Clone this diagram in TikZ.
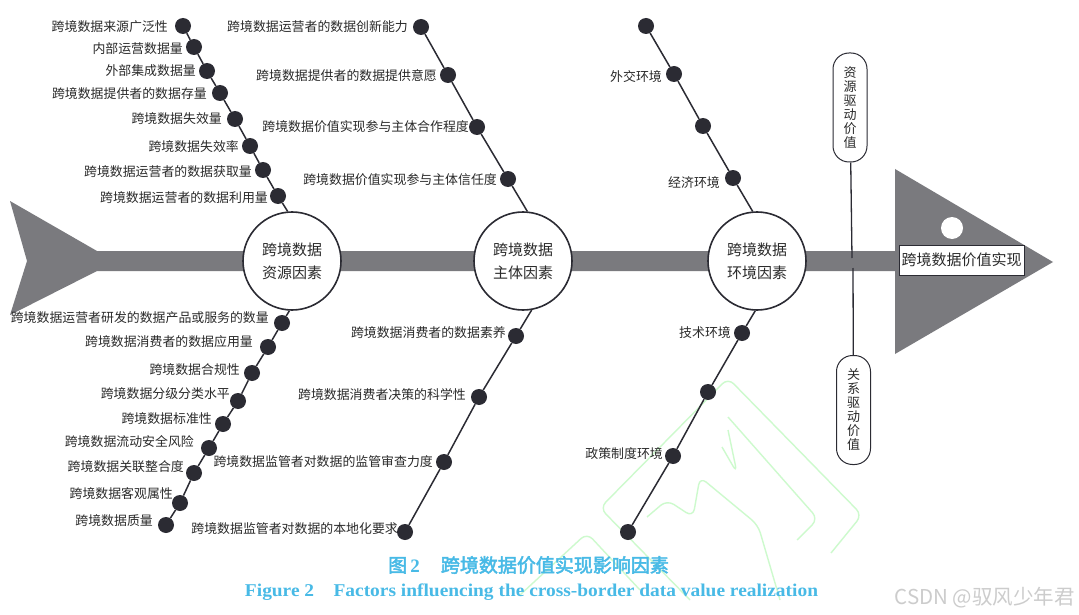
\documentclass[tikz,border=0pt]{standalone}
\usepackage{fontspec}
\usepackage{graphicx}
\newfontfamily\cjk{Noto Sans CJK SC}
\newfontfamily\cjkb[AutoFakeBold=2.5]{Noto Sans CJK SC}
\newfontfamily\capserif{Liberation Serif}
\definecolor{dotc}{HTML}{2B2B33}
\definecolor{spinec}{HTML}{7A7A7E}
\definecolor{txtc}{HTML}{2A2A2A}
\definecolor{capc}{RGB}{72,186,230}
\definecolor{wmc}{RGB}{205,250,205}
\tikzset{
  dotn/.style={circle,fill=dotc,inner sep=0pt,minimum size=16pt},
  bone/.style={draw=dotc,line width=1.5pt},
  lab/.style={anchor=east,inner sep=0pt,text=txtc,font=\cjk\fontsize{12.9}{14}\selectfont},
  bigc/.style={circle,draw=dotc,line width=1.6pt,fill=white,minimum size=98pt,inner sep=0pt,align=center,text=txtc,font=\cjk\fontsize{15}{23}\selectfont},
  pill/.style={draw=dotc,line width=1pt,fill=white,rounded corners=16pt,minimum width=34pt,minimum height=109pt,inner sep=0pt,align=center,text=txtc,font=\cjk\fontsize{13}{14}\selectfont},
  wm/.style={draw=wmc,line width=1.4pt,rounded corners=8pt}
}
\begin{document}
\begin{tikzpicture}[x=1pt,y=-1pt]
\fill[white] (0,0) rectangle (1079,615);
\useasboundingbox (0,0) rectangle (1079,615);

% watermark outline
\draw[wm] (690,600) -- (600,508) -- (728,378) -- (862,515) -- (831,553);
\draw[wm] (728,417) -- (818,519) -- (797,540);
\draw[wm] (647,517) -- (667,500) -- (693,517) -- (700,477) -- (758,525) -- (780,600);
\draw[wm] (722,447) -- (737,473) -- (728,430);
\draw[wm] (520,595) -- (587,533) -- (640,590);

% spine, tail and head
\fill[spinec] (10,201) -- (97,251) -- (895,251) -- (895,169) -- (1053,262) -- (895,354) -- (895,271) -- (97,271) -- (10,315) -- (27,261) -- cycle;
\fill[white] (952,228) circle (11);
\node[draw=dotc,line width=0.9pt,fill=white,minimum width=125pt,minimum height=30pt,inner sep=0pt,text=txtc,font=\cjk\fontsize{15}{16}\selectfont] (head) at (961.5,260) {跨境数据价值实现};

% category circles
\node[bigc] (rc) at (292,261) {跨境数据\\资源因素};
\node[bigc] (sc) at (523,261) {跨境数据\\主体因素};
\node[bigc] (ec) at (757,261) {跨境数据\\环境因素};

% driving-value pills
\node[pill] (pu) at (850,107.5) {资\\源\\驱\\动\\价\\值};
\node[pill] (pd) at (853.5,410) {关\\系\\驱\\动\\价\\值};
\coordinate (sp1) at (852,258);
\coordinate (sp2) at (853,268);
\draw[draw=dotc,line width=1.3pt] (pu) -- (sp1);
\draw[draw=dotc,line width=1.3pt] (sp2) -- (pd);

% resource upper
\node[dotn] (ru1) at (183,26) {};
\node[dotn] (ru2) at (194,47) {};
\node[dotn] (ru3) at (207,71) {};
\node[dotn] (ru4) at (220,93) {};
\node[dotn] (ru5) at (235,119) {};
\node[dotn] (ru6) at (250,146) {};
\node[dotn] (ru7) at (263,170) {};
\node[dotn] (ru8) at (278,196) {};
\draw[bone] (ru1) -- (ru2) -- (ru3) -- (ru4) -- (ru5) -- (ru6) -- (ru7) -- (ru8) -- (rc.95.7);
\node[lab] (lru1) at (168,27) {跨境数据来源广泛性};
\node[lab] (lru2) at (183,49) {内部运营数据量};
\node[lab] (lru3) at (196,71) {外部集成数据量};
\node[lab] (lru4) at (207,94) {跨境数据提供者的数据存量};
\node[lab] (lru5) at (222,119) {跨境数据失效量};
\node[lab] (lru6) at (239,147) {跨境数据失效率};
\node[lab] (lru7) at (252,172) {跨境数据运营者的数据获取量};
\node[lab] (lru8) at (268,198) {跨境数据运营者的数据利用量};

% subject upper
\node[dotn] (su1) at (421,27) {};
\node[dotn] (su2) at (448,75) {};
\node[dotn] (su3) at (477,127) {};
\node[dotn] (su4) at (508,179) {};
\draw[bone] (su1) -- (su2) -- (su3) -- (su4) -- (sc.85.4);
\node[lab] (lsu1) at (408,27) {跨境数据运营者的数据创新能力};
\node[lab] (lsu2) at (437,76) {跨境数据提供者的数据提供意愿};
\node[lab] (lsu3) at (469,127) {跨境数据价值实现参与主体合作程度};
\node[lab] (lsu4) at (497,180) {跨境数据价值实现参与主体信任度};

% environment upper
\node[dotn] (eu1) at (646,26) {};
\node[dotn] (eu2) at (674,74) {};
\node[dotn] (eu3) at (703,126) {};
\node[dotn] (eu4) at (733,178) {};
\draw[bone] (eu1) -- (eu2) -- (eu3) -- (eu4) -- (ec.95.2);
\node[lab] (leu2) at (662,77) {外交环境};
\node[lab] (leu4) at (720,183) {经济环境};

% resource lower
\node[dotn] (rl1) at (282,323) {};
\node[dotn] (rl2) at (268,347) {};
\node[dotn] (rl3) at (252,373) {};
\node[dotn] (rl4) at (238,401) {};
\node[dotn] (rl5) at (223,424) {};
\node[dotn] (rl6) at (209,448) {};
\node[dotn] (rl7) at (194,473) {};
\node[dotn] (rl8) at (180,503) {};
\node[dotn] (rl9) at (166,525) {};
\draw[bone] (rc.-93) -- (rl1) -- (rl2) -- (rl3) -- (rl4) -- (rl5) -- (rl6) -- (rl7) -- (rl8) -- (rl9);
\node[lab] (lrl1) at (269,318) {跨境数据运营者研发的数据产品或服务的数量};
\node[lab] (lrl2) at (253,342) {跨境数据消费者的数据应用量};
\node[lab] (lrl3) at (240,370) {跨境数据合规性};
\node[lab] (lrl4) at (230,394) {跨境数据分级分类水平};
\node[lab] (lrl5) at (212,419) {跨境数据标准性};
\node[lab] (lrl6) at (194,442) {跨境数据流动安全风险};
\node[lab] (lrl7) at (184,467) {跨境数据关联整合度};
\node[lab] (lrl8) at (173,494) {跨境数据客观属性};
\node[lab] (lrl9) at (153,521) {跨境数据质量};

% subject lower
\node[dotn] (sl1) at (516,336) {};
\node[dotn] (sl2) at (479,397) {};
\node[dotn] (sl3) at (444,462) {};
\node[dotn] (sl4) at (405,532) {};
\draw[bone] (sc.-80.5) -- (sl1) -- (sl2) -- (sl3) -- (sl4);
\node[lab] (lsl1) at (506,333) {跨境数据消费者的数据素养};
\node[lab] (lsl2) at (466,395) {跨境数据消费者决策的科学性};
\node[lab] (lsl3) at (433,462) {跨境数据监管者对数据的监管审查力度};
\node[lab] (lsl4) at (398,529) {跨境数据监管者对数据的本地化要求};

% environment lower
\node[dotn] (el1) at (742,333) {};
\node[dotn] (el2) at (708,392) {};
\node[dotn] (el3) at (673,456) {};
\node[dotn] (el4) at (628,532) {};
\draw[bone] (ec.-92) -- (el1) -- (el2) -- (el3) -- (el4);
\node[lab] (lel1) at (731,333) {技术环境};
\node[lab] (lel3) at (663,454) {政策制度环境};

% captions
\node[anchor=west,inner sep=0pt,text=capc,font=\cjkb\bfseries\fontsize{19}{20}\selectfont] (cap1) at (388,565) {图\,{\capserif\bfseries 2}\hspace{21pt}跨境数据价值实现影响因素};
\node[inner sep=0pt,text=capc] (cap2) at (531.5,592) {\resizebox{573pt}{\height}{\capserif\bfseries\fontsize{18}{19}\selectfont Figure 2\hspace{1em}Factors influencing the cross-border data value realization}};
\node[anchor=east,inner sep=0pt,text=black!20,font=\cjk\fontsize{20.5}{21}\selectfont] (wmark) at (1075,598) {CSDN @驭风少年君};
\end{tikzpicture}
\end{document}
